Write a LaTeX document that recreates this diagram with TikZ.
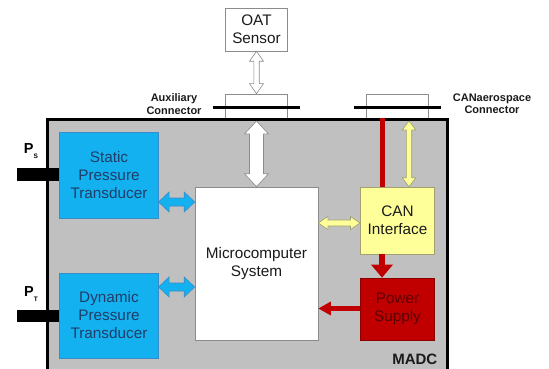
\documentclass[tikz,border=0pt]{standalone}
\usepackage{fontspec}
\setmainfont{Liberation Sans}
\usetikzlibrary{calc,arrows.meta}
\definecolor{madcgray}{HTML}{C0C0C0}
\definecolor{tblue}{HTML}{14B1F0}
\definecolor{tblueline}{HTML}{3A8CC8}
\definecolor{tbluetext}{HTML}{1F3D66}
\definecolor{cyellow}{HTML}{FFFF99}
\definecolor{cyline}{HTML}{A0A070}
\definecolor{pred}{HTML}{C00000}
\definecolor{preddark}{HTML}{8A0000}
\definecolor{ptext}{HTML}{5A0000}
\definecolor{boxgray}{HTML}{8C8C8C}
\definecolor{txt}{HTML}{1A1A1A}
% horizontal double block arrow: #1 left, #2 right, #3 shaft half, #4 head half, #5 head length, #6 fill, #7 draw
\newcommand{\hdarrow}[7]{%
  \filldraw[fill=#6,draw=#7,line width=0.6pt,line join=miter] let \p1=(#1),\p2=(#2) in
  (\x1,\y1) -- (\x1+#5,\y1+#4) -- (\x1+#5,\y1+#3) -- (\x2-#5,\y1+#3) -- (\x2-#5,\y1+#4) -- (\x2,\y1)
  -- (\x2-#5,\y1-#4) -- (\x2-#5,\y1-#3) -- (\x1+#5,\y1-#3) -- (\x1+#5,\y1-#4) -- cycle;}
% vertical double block arrow: #1 top, #2 bottom
\newcommand{\vdarrow}[7]{%
  \filldraw[fill=#6,draw=#7,line width=0.6pt,line join=miter] let \p1=(#1),\p2=(#2) in
  (\x1,\y1) -- (\x1+#4,\y1-#5) -- (\x1+#3,\y1-#5) -- (\x1+#3,\y2+#5) -- (\x1+#4,\y2+#5) -- (\x1,\y2)
  -- (\x1-#4,\y2+#5) -- (\x1-#3,\y2+#5) -- (\x1-#3,\y1-#5) -- (\x1-#4,\y1-#5) -- cycle;}
\begin{document}
\begin{tikzpicture}[x=1pt,y=-1pt,
  font=\fontsize{15.3}{18}\selectfont,
  blk/.style={inner sep=0pt, align=center, line width=0.6pt},
  lbl/.style={font=\fontsize{11}{12.2}\selectfont\bfseries, align=center, text=txt},
  bar/.style={fill=black, draw=none}]
\useasboundingbox (0,0) rectangle (549,369);
\clip (0,0) rectangle (549,369);

% OAT sensor
\node[blk, draw=boxgray, fill=white, text=txt, minimum width=62pt, minimum height=43pt] (oat) at (256.5,29.5) {OAT\\Sensor};

% connector housings
\node[blk, draw=boxgray, fill=white, minimum width=62pt, minimum height=24pt] (auxc) at (256.5,106) {};
\node[blk, draw=boxgray, fill=white, minimum width=62pt, minimum height=24pt] (canc) at (397,106) {};
\draw[line width=3pt] ($(auxc.west)+(-12.5,1)$) -- ($(auxc.east)+(12,1)$);
\draw[line width=3pt] ($(canc.west)+(-12,1)$) -- ($(canc.east)+(12.5,1)$);
\node[lbl] (auxlbl) at (174,104) {Auxiliary\\Connector};
\node[lbl] (canlbl) at (492,104) {CANaerospace\\Connector};

% MADC box
\node[draw=black, line width=3pt, fill=madcgray, minimum width=400pt, minimum height=271pt, inner sep=0pt] (madc) at (247,254.5) {};
\node[font=\fontsize{15}{17}\selectfont\bfseries, text=txt, anchor=east, inner sep=0pt] (madclbl) at (437.5,359) {MADC};

% pressure ports
\fill[bar] (17,168) rectangle (61,181);
\fill[bar] (17,310) rectangle (61,322);
\node[font=\fontsize{14.5}{16}\selectfont\bfseries, inner sep=0pt] (ps) at (31,151) {P\raisebox{-5pt}{\fontsize{6.5}{7}\selectfont S}};
\node[font=\fontsize{14.5}{16}\selectfont\bfseries, inner sep=0pt] (pt) at (31,294) {P\raisebox{-5pt}{\fontsize{6.5}{7}\selectfont T}};

% inner blocks
\node[blk, draw=tblueline, fill=tblue, text=tbluetext, minimum width=98.5pt, minimum height=86pt] (static) at (109,175) {Static\\Pressure\\Transducer};
\node[blk, draw=tblueline, fill=tblue, text=tbluetext, minimum width=98.5pt, minimum height=85pt] (dynamic) at (109,315.5) {Dynamic\\Pressure\\Transducer};
\node[blk, draw=boxgray, fill=white, text=txt, minimum width=123pt, minimum height=153pt] (micro) at (256.5,263.5) {Microcomputer\\System};
\node[blk, draw=cyline, fill=cyellow, text=txt, minimum width=74.5pt, minimum height=67pt] (can) at (397.5,220.5) {CAN\\Interface};
\node[blk, draw=preddark, fill=pred, text=ptext, minimum width=74.5pt, minimum height=62pt] (power) at (397.5,309) {Power\\Supply};

% helper coordinates
\coordinate (redx) at (382,0);
\coordinate (yelx) at (409,0);
\coordinate (ya) at (0,202);
\coordinate (yb) at (0,287);
\coordinate (yc) at (0,223);
\coordinate (yd) at (0,308.5);
\coordinate (ytop) at (0,121);

% connectors
\vdarrow{oat.south}{auxc.north}{2.7pt}{7pt}{10pt}{white}{boxgray}
\vdarrow{micro.north |- ytop}{micro.north}{7pt}{12pt}{13pt}{white}{boxgray}
\draw[pred, line width=5pt] (canc.south -| redx) -- (can.north -| redx);
\vdarrow{yelx |- ytop}{can.north -| yelx}{2.7pt}{6.8pt}{9pt}{cyellow}{cyline}
\draw[pred, line width=6pt, -{Triangle[width=21pt,length=13pt]}] (can.south -| redx) -- (power.north -| redx);
\draw[pred, line width=5pt, -{Triangle[width=13pt,length=12.5pt]}] (power.west |- yd) -- (micro.east |- yd);
\hdarrow{micro.east |- yc}{can.west |- yc}{3pt}{6.5pt}{9.5pt}{cyellow}{cyline}
\hdarrow{static.east |- ya}{micro.west |- ya}{4pt}{10pt}{10.5pt}{tblue}{tblueline}
\hdarrow{dynamic.east |- yb}{micro.west |- yb}{4pt}{10pt}{10.5pt}{tblue}{tblueline}
\end{tikzpicture}
\end{document}
